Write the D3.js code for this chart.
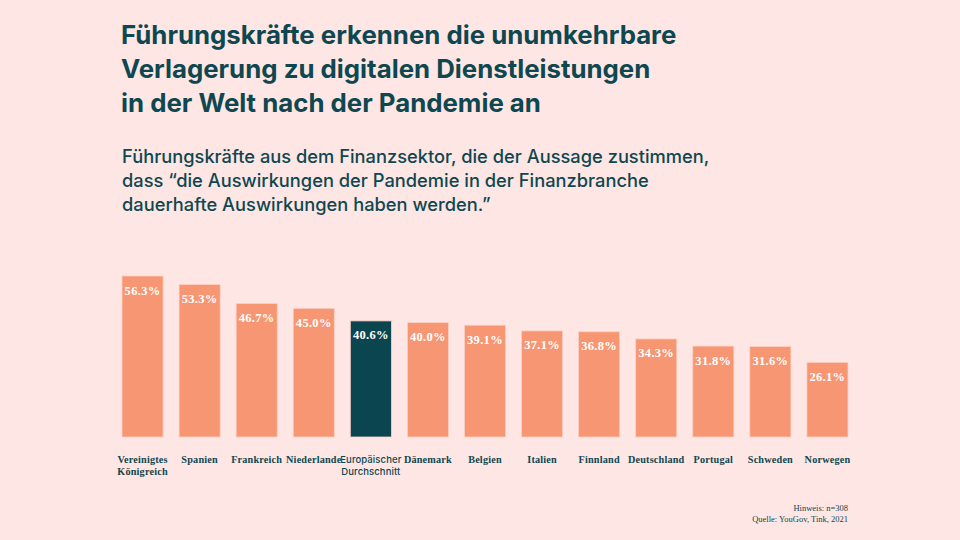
<!DOCTYPE html>
<html><head><meta charset="utf-8">
<script src="https://cdn.jsdelivr.net/npm/d3@7/dist/d3.min.js"></script>
<style>
body{margin:0;background:#fde6e4;}
svg{display:block;}
</style></head>
<body>
<script>
const categories = [["Vereinigtes","Königreich"],["Spanien"],["Frankreich"],["Niederlande"],["Europäischer","Durchschnitt"],["Dänemark"],["Belgien"],["Italien"],["Finnland"],["Deutschland"],["Portugal"],["Schweden"],["Norwegen"]];
const values = [56.3,53.3,46.7,45.0,40.6,40.0,39.1,37.1,36.8,34.3,31.8,31.6,26.1];
const highlight = [false,false,false,false,true,false,false,false,false,false,false,false,false];
const titleLines = ["Führungskräfte erkennen die unumkehrbare","Verlagerung zu digitalen Dienstleistungen","in der Welt nach der Pandemie an"];
const subtitleLines = ["Führungskräfte aus dem Finanzsektor, die der Aussage zustimmen,","dass “die Auswirkungen der Pandemie in der Finanzbranche","dauerhafte Auswirkungen haben werden.”"];
const noteLines = ["Hinweis: n=308","Quelle: YouGov, Tink, 2021"];

const W=960,H=540;
const svg=d3.select("body").append("svg").attr("width",W).attr("height",H);
svg.append("rect").attr("width",W).attr("height",H).attr("fill","#fde6e4");
const teal="#0e4750";

svg.append("g").selectAll("text").data(titleLines).join("text")
  .attr("x",121).attr("y",(d,i)=>44+i*34)
  .attr("font-family","Inter, 'Open Sans', sans-serif").attr("font-weight",700)
  .attr("font-size",25.8).attr("fill",teal).text(d=>d);
svg.append("g").selectAll("text").data(subtitleLines).join("text")
  .attr("x",122).attr("y",(d,i)=>163+i*24)
  .attr("font-family","Inter, 'Open Sans', sans-serif").attr("font-weight",500)
  .attr("font-size",18.3).attr("fill",teal).text(d=>d);

const x=d3.scaleBand().domain(d3.range(values.length)).range([122,848]).paddingInner(0.28).paddingOuter(0);
const y=d3.scaleLinear().domain([0,56.3]).range([437,276]);

const g=svg.append("g");
g.selectAll("rect").data(values).join("rect")
  .attr("x",(d,i)=>x(i)).attr("width",x.bandwidth())
  .attr("y",d=>y(d)).attr("height",d=>y(0)-y(d))
  .attr("fill",(d,i)=>highlight[i]?"#0b4650":"#f79672")
  .attr("stroke","#fcd0c4").attr("stroke-width",0.8);
g.selectAll("text.v").data(values).join("text").attr("class","v")
  .attr("x",(d,i)=>x(i)+x.bandwidth()/2).attr("y",d=>y(d)+18.5)
  .attr("text-anchor","middle").attr("font-family","'Liberation Serif', 'Times New Roman', serif")
  .attr("font-weight","bold").attr("font-size",12.5).attr("letter-spacing",0.3).attr("fill","#fff")
  .text(d=>d.toFixed(1)+"%");

const lab=svg.append("g");
categories.forEach((c,i)=>{
  const t=lab.append("text").attr("x",x(i)+x.bandwidth()/2).attr("y",463)
    .attr("text-anchor","middle").attr("fill",teal)
    .attr("font-family",highlight[i]?"Inter, 'Open Sans', sans-serif":"'Liberation Serif', serif")
    .attr("font-weight",highlight[i]?500:"bold").attr("font-size",highlight[i]?9.5:10.2)
    .attr("letter-spacing",highlight[i]?0.1:0.2);
  c.forEach((l,j)=>t.append("tspan").attr("x",x(i)+x.bandwidth()/2).attr("dy",j?12:0).text(l));
});

svg.append("g").selectAll("text").data(noteLines).join("text")
  .attr("x",848).attr("y",(d,i)=>511+i*11).attr("text-anchor","end")
  .attr("font-family","'Liberation Serif', serif").attr("font-size",8.5).attr("fill",teal).text(d=>d);
</script>
</body></html>
